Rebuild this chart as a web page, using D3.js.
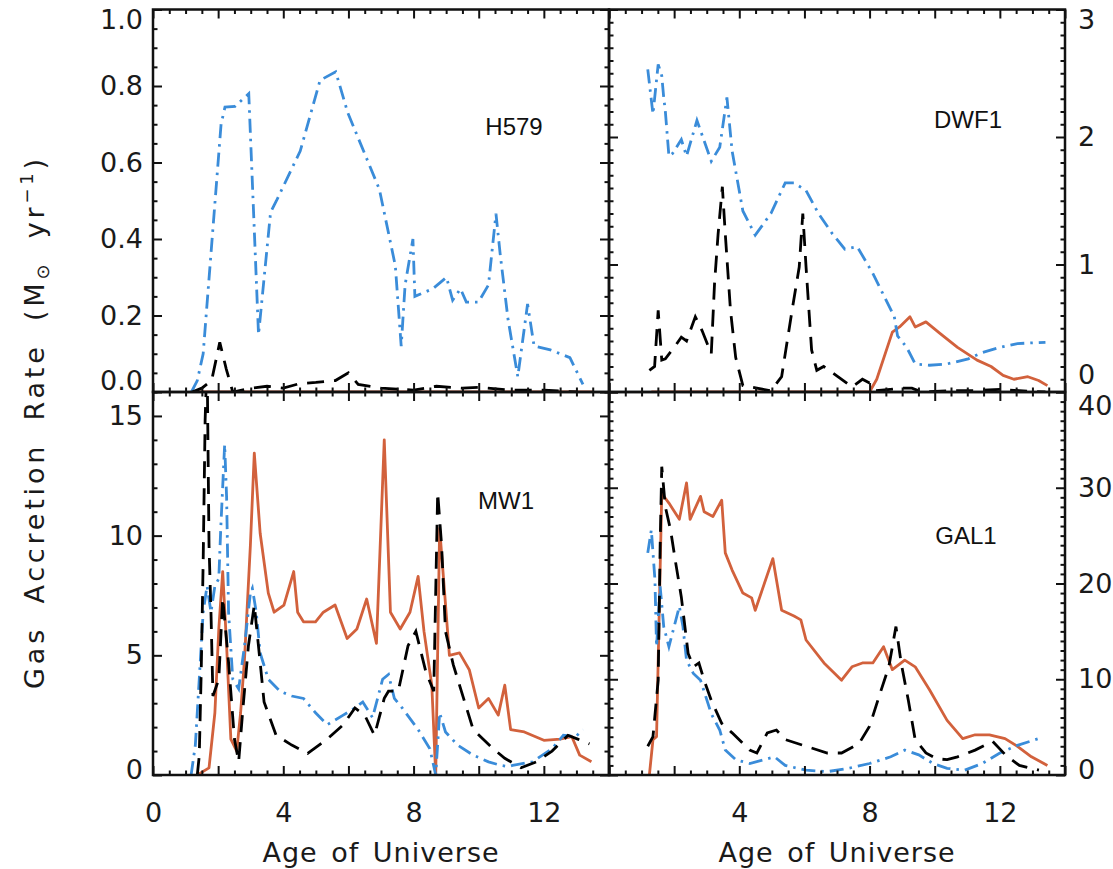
<!DOCTYPE html>
<html><head><meta charset="utf-8">
<script src="https://cdn.jsdelivr.net/npm/d3@7"></script>
<style>body{margin:0;background:#fff}</style>
</head><body>
<svg id="c" width="1113" height="869"></svg>
<script>
// ---------------- DATA ----------------
const xTickLabelsLeft = [0, 4, 8, 12];
const xTickLabelsRight = [4, 8, 12];
const yTicksH579 = [0, 0.2, 0.4, 0.6, 0.8, 1.0];
const yTicksDWF1 = [0, 1, 2, 3];
const yTicksMW1 = [0, 5, 10, 15];
const yTicksGAL1 = [0, 10, 20, 30, 40];
const panelNames = ["H579", "DWF1", "MW1", "GAL1"];

// [age, rate] pairs
const h579Red = [[1.3,0],[4,0],[8,0],[13.5,0]];
const h579Black = [[1.2,0],[1.5,0.01],[1.8,0.03],[2.05,0.13],[2.25,0.06],[2.45,0.0],[3.0,0.01],[3.5,0.015],[4.0,0.01],[4.5,0.022],[5.0,0.025],[5.6,0.03],[6.0,0.05],[6.3,0.02],[7.0,0.01],[8.0,0.005],[8.7,0.015],[9.5,0.01],[10.0,0.012],[11.0,0.005],[12.0,0.005],[13.0,0.0]];
const h579Blue = [[1.18,0],[1.36,0.03],[1.54,0.10],[2.09,0.70],[2.21,0.745],[2.52,0.747],[2.94,0.78],[3.24,0.15],[3.61,0.47],[3.79,0.50],[4.52,0.63],[5.13,0.815],[5.61,0.837],[5.98,0.73],[6.95,0.53],[7.44,0.33],[7.62,0.12],[7.74,0.28],[7.98,0.40],[8.04,0.25],[8.59,0.27],[9.01,0.30],[9.2,0.24],[9.44,0.27],[9.62,0.235],[9.99,0.235],[10.3,0.28],[10.53,0.466],[10.66,0.36],[10.9,0.19],[11.2,0.04],[11.5,0.23],[11.7,0.12],[12.2,0.11],[12.8,0.09],[13.2,0.02]];

const dwf1Red = [[1.3,0],[4,0],[8.0,0],[8.22,0.1],[8.7,0.47],[8.92,0.51],[9.24,0.59],[9.4,0.51],[9.73,0.55],[10.16,0.46],[10.7,0.35],[11.3,0.25],[11.73,0.2],[12.1,0.13],[12.43,0.10],[12.86,0.12],[13.19,0.09],[13.46,0.05]];
const dwf1Black = [[1.24,0.17],[1.4,0.2],[1.51,0.64],[1.62,0.25],[1.73,0.26],[2.0,0.35],[2.22,0.43],[2.38,0.40],[2.65,0.59],[2.86,0.48],[3.14,0.30],[3.24,0.85],[3.35,1.24],[3.48,1.61],[3.57,1.24],[3.73,0.64],[3.89,0.27],[4.11,0.05],[4.54,0.03],[4.97,0.01],[5.3,0.12],[5.62,0.64],[5.84,0.98],[5.95,1.40],[6.05,0.98],[6.22,0.33],[6.38,0.17],[6.59,0.20],[6.92,0.14],[7.46,0.04],[7.78,0.10],[8.0,0.07],[8.2,0.01],[9.0,0.03],[9.3,0.03],[9.6,0.0],[10.4,0.01],[11.2,0.01],[12.0,0.02],[12.6,0.01],[13.4,0.0]];
const dwf1Blue = [[1.19,2.53],[1.35,2.18],[1.51,2.57],[1.62,2.48],[1.68,2.31],[1.73,2.2],[1.84,1.85],[1.95,1.87],[2.22,1.98],[2.38,1.85],[2.7,2.13],[3.14,1.81],[3.4,1.92],[3.62,2.31],[3.78,1.89],[4.11,1.42],[4.49,1.23],[4.97,1.40],[5.41,1.64],[5.68,1.64],[6.05,1.58],[6.43,1.40],[6.86,1.24],[7.24,1.12],[7.62,1.14],[8.1,0.93],[8.76,0.59],[8.86,0.44],[9.14,0.35],[9.4,0.22],[9.84,0.21],[10.38,0.22],[11.03,0.26],[11.46,0.31],[12.0,0.35],[12.54,0.38],[13.4,0.39]];

const mw1Red = [[1.36,0],[1.72,0.3],[1.9,2.6],[2.02,6.1],[2.14,8.5],[2.26,5.4],[2.39,1.5],[2.57,1.0],[2.69,2.6],[2.81,4.85],[2.99,9.6],[3.11,13.45],[3.29,10.1],[3.54,7.6],[3.72,6.8],[4.02,7.1],[4.32,8.5],[4.44,6.8],[4.62,6.4],[4.99,6.4],[5.23,6.8],[5.59,7.1],[5.96,5.7],[6.26,6.1],[6.56,7.35],[6.86,5.5],[7.1,14.0],[7.29,6.8],[7.59,6.1],[7.89,6.8],[8.14,8.3],[8.32,6.0],[8.56,3.75],[8.68,0],[8.8,10.3],[8.92,8.2],[9.1,5.0],[9.41,5.1],[9.71,4.4],[10.0,2.8],[10.3,3.2],[10.6,2.5],[10.8,3.75],[10.98,1.9],[11.4,1.8],[12.0,1.45],[12.5,1.5],[12.86,1.6],[13.1,0.83],[13.46,0.55]];
const mw1Black = [[1.36,0],[1.42,0.8],[1.48,4.3],[1.54,8.9],[1.6,14.8],[1.66,17.5],[1.72,9.6],[1.78,6.8],[1.84,3.3],[2.02,4.0],[2.14,7.4],[2.32,4.7],[2.5,1.5],[2.63,0.55],[2.75,2.6],[2.93,5.4],[3.11,7.1],[3.29,4.7],[3.41,3.05],[3.78,1.66],[4.26,1.25],[4.75,0.9],[5.35,1.5],[5.84,2.1],[6.2,2.8],[6.5,2.5],[6.8,1.66],[7.1,3.2],[7.23,3.5],[7.53,3.5],[7.83,5.4],[8.07,6.0],[8.38,4.3],[8.62,3.5],[8.74,11.8],[8.86,9.6],[8.98,6.0],[9.22,4.6],[9.83,1.9],[10.44,1.1],[10.8,0.7],[11.3,0.3],[11.77,0.55],[12.25,1.0],[12.74,1.66],[13.04,1.5],[13.4,1.3]];
const mw1Blue = [[1.17,0],[1.3,1.25],[1.42,4.0],[1.54,6.8],[1.66,7.9],[1.78,6.8],[1.9,7.9],[2.02,8.2],[2.08,10.3],[2.2,13.8],[2.26,11.6],[2.32,6.8],[2.45,4.0],[2.63,3.6],[2.81,5.4],[2.99,7.6],[3.05,7.8],[3.17,6.8],[3.29,5.1],[3.54,4.0],[3.9,3.5],[4.26,3.3],[4.62,3.2],[4.99,2.6],[5.35,2.1],[5.84,2.5],[6.2,2.8],[6.44,3.05],[6.74,2.4],[7.05,4.0],[7.23,4.2],[7.41,3.2],[7.65,2.8],[8.14,1.9],[8.5,1.1],[8.68,0],[8.8,2.6],[8.98,1.8],[9.35,1.25],[9.83,0.83],[10.3,0.55],[10.68,0.4],[10.92,0.35],[11.04,0.4],[11.65,0.55],[12.25,1.1],[12.6,1.66],[12.98,1.6],[13.2,1.9]];

const gal1Red = [[1.24,0],[1.35,3.7],[1.46,4.0],[1.62,29.4],[1.84,28.4],[2.16,26.7],[2.38,30.5],[2.49,26.7],[2.81,29.1],[2.92,27.5],[3.19,27.0],[3.46,28.7],[3.57,23.2],[3.78,21.4],[4.11,19.0],[4.38,18.5],[4.49,17.2],[5.03,22.6],[5.3,17.2],[5.68,16.6],[5.89,16.2],[6.05,14.1],[6.6,11.7],[7.14,9.9],[7.46,11.3],[7.78,11.7],[8.1,11.7],[8.43,13.4],[8.7,11.0],[9.08,12.0],[9.4,11.3],[9.84,8.9],[10.38,5.7],[10.86,3.8],[11.24,4.2],[11.68,4.2],[12.16,3.8],[12.54,3.0],[12.97,1.9],[13.46,1.0]];
const gal1Black = [[1.19,3.0],[1.35,4.0],[1.51,9.9],[1.57,23.9],[1.62,32.2],[1.73,28.0],[1.89,25.6],[2.05,22.1],[2.22,18.6],[2.43,12.7],[2.59,11.3],[2.76,11.7],[2.92,9.9],[3.14,7.8],[3.46,5.4],[3.78,4.4],[4.32,2.6],[4.54,2.3],[4.86,4.4],[5.14,4.7],[5.41,3.7],[6.05,3.0],[6.7,2.3],[7.14,2.3],[7.68,3.3],[8.0,5.1],[8.32,8.5],[8.59,11.3],[8.81,15.5],[8.97,11.7],[9.19,7.8],[9.4,3.7],[9.73,2.3],[10.05,1.7],[10.38,1.6],[10.7,1.9],[11.24,2.6],[11.78,3.5],[12.2,2.0],[12.6,1.0],[13.2,0.5]];
const gal1Blue = [[1.19,23.2],[1.3,25.6],[1.41,20.4],[1.46,13.4],[1.57,19.7],[1.68,15.5],[1.84,13.4],[2.0,15.5],[2.16,17.6],[2.27,15.5],[2.38,12.0],[2.59,10.6],[2.81,9.9],[3.14,6.4],[3.4,4.7],[3.57,2.6],[3.89,1.6],[4.32,1.2],[4.76,1.6],[5.08,1.9],[5.41,1.0],[6.05,0.5],[6.7,0.35],[7.35,0.7],[8.0,1.2],[8.65,1.9],[9.08,2.6],[9.51,2.1],[9.95,1.2],[10.38,0.7],[10.92,0.5],[11.46,1.2],[12.0,2.3],[12.54,3.1],[13.19,3.8]];

// ---------------- LAYOUT ----------------
const svg = d3.select("#c");
const XL = 153, XR = 609, W = 456, YT = 9.5, YM = 392, YB = 775;
const FONT = "DejaVu Sans, sans-serif";
const RED = "#d2613c", BLUE = "#3a8cd9", BLACK = "#000";

const panels = [
  {name: panelNames[0], x: XL, y: YT, h: YM - YT, ymax: 1, ticks: yTicksH579, minor: 0.05, fmt: d3.format(".1f"), side: "left", red: h579Red, black: h579Black, blue: h579Blue, lab: [514, 135], xl: null, top: true},
  {name: panelNames[1], x: XR, y: YT, h: YM - YT, ymax: 3, ticks: yTicksDWF1, minor: 0.1, fmt: d3.format("d"), side: "right", red: dwf1Red, black: dwf1Black, blue: dwf1Blue, lab: [968, 128], xl: null, top: true},
  {name: panelNames[2], x: XL, y: YM, h: YB - YM, ymax: 16, ticks: yTicksMW1, minor: 1, fmt: d3.format("d"), side: "left", red: mw1Red, black: mw1Black, blue: mw1Blue, lab: [506, 509], xl: xTickLabelsLeft, top: false},
  {name: panelNames[3], x: XR, y: YM, h: YB - YM, ymax: 40, ticks: yTicksGAL1, minor: 1, fmt: d3.format("d"), side: "right", red: gal1Red, black: gal1Black, blue: gal1Blue, lab: [966, 544], xl: xTickLabelsRight, top: false}
];

const xMajor = d3.range(0, 14.001, 2);
const xMinor = d3.range(0, 14.001, 0.5).filter(v => v % 2 !== 0);

function styleAxis(g) {
  g.select(".domain").remove();
  g.selectAll(".tick line").attr("stroke", "#111").attr("stroke-width", 2);
  g.selectAll(".tick text").attr("font-family", FONT).attr("font-size", 27).attr("fill", "#1a1a1a");
}

panels.forEach((p, i) => {
  const x = d3.scaleLinear().domain([0, 14]).range([p.x, p.x + W]);
  const y = d3.scaleLinear().domain([0, p.ymax]).range([p.y + p.h, p.y]);
  const yMinor = d3.range(0, p.ymax + 1e-9, p.minor).filter(v => !p.ticks.some(t => Math.abs(t - v) < 1e-9));

  const clipId = "clip" + i;
  svg.append("clipPath").attr("id", clipId).append("rect")
    .attr("x", p.x).attr("y", p.y).attr("width", W).attr("height", p.h);

  const line = d3.line().x(d => x(d[0])).y(d => y(d[1]));
  const g = svg.append("g").attr("clip-path", `url(#${clipId})`);
  g.append("path").datum(p.red).attr("d", line).attr("fill", "none")
    .attr("stroke", RED).attr("stroke-width", 2.8).attr("stroke-linejoin", "round");
  g.append("path").datum(p.blue).attr("d", line).attr("fill", "none")
    .attr("stroke", BLUE).attr("stroke-width", 2.8).attr("stroke-dasharray", "14,6,2.5,6");
  g.append("path").datum(p.black).attr("d", line).attr("fill", "none")
    .attr("stroke", BLACK).attr("stroke-width", 2.8).attr("stroke-dasharray", "17,10");

  // x axes: bottom and top (inward ticks)
  const xb = svg.append("g").attr("transform", `translate(0,${p.y + p.h})`)
    .call(d3.axisBottom(x).tickValues(xMajor).tickSize(-9).tickPadding(28)
      .tickFormat(d => (p.xl && p.xl.includes(d)) ? d : ""));
  styleAxis(xb);
  const xbm = svg.append("g").attr("transform", `translate(0,${p.y + p.h})`)
    .call(d3.axisBottom(x).tickValues(xMinor).tickSize(-4.5).tickFormat(""));
  styleAxis(xbm);
  const xt = svg.append("g").attr("transform", `translate(0,${p.y})`)
    .call(d3.axisTop(x).tickValues(xMajor).tickSize(-9).tickFormat(""));
  styleAxis(xt);
  const xtm = svg.append("g").attr("transform", `translate(0,${p.y})`)
    .call(d3.axisTop(x).tickValues(xMinor).tickSize(-4.5).tickFormat(""));
  styleAxis(xtm);

  // y axes on both sides
  const labelled = p.side;
  const mkLeft = d3.axisLeft(y).tickValues(p.ticks).tickSize(-9).tickPadding(10)
    .tickFormat(labelled === "left" ? p.fmt : () => "");
  const mkRight = d3.axisRight(y).tickValues(p.ticks).tickSize(-9).tickPadding(13)
    .tickFormat(labelled === "right" ? p.fmt : () => "");
  const yl = svg.append("g").attr("transform", `translate(${p.x},0)`).call(mkLeft);
  styleAxis(yl);
  const yr = svg.append("g").attr("transform", `translate(${p.x + W},0)`).call(mkRight);
  styleAxis(yr);
  [[p.x, d3.axisLeft], [p.x + W, d3.axisRight]].forEach(([tx, ax]) => {
    const m = svg.append("g").attr("transform", `translate(${tx},0)`)
      .call(ax(y).tickValues(yMinor).tickSize(-4.5).tickFormat(""));
    styleAxis(m);
  });
  // nudge end labels inward like the original
  [yl, yr].forEach(a => a.selectAll(".tick text").attr("dy", d => {
    if (d === p.ymax) return p.top ? "0.7em" : "0.85em";
    if (d === 0) return p.top ? (p.side === "left" ? "-0.1em" : "-0.3em") : "0.12em";
    return "0.32em";
  }));

  // frame
  svg.append("rect").attr("x", p.x).attr("y", p.y).attr("width", W).attr("height", p.h)
    .attr("fill", "none").attr("stroke", "#111").attr("stroke-width", 2.5);

  // panel label
  svg.append("text").attr("x", p.lab[0]).attr("y", p.lab[1]).attr("text-anchor", "middle")
    .attr("font-family", "Liberation Sans, Arial, sans-serif").attr("font-size", 24)
    .attr("fill", "#111").text(p.name);
});

// axis titles
[[XL + W / 2], [XR + W / 2]].forEach(([cx]) => {
  svg.append("text").attr("x", cx).attr("y", 862).attr("text-anchor", "middle")
    .attr("font-family", FONT).attr("font-size", 27).attr("letter-spacing", 1)
    .attr("word-spacing", 4).attr("fill", "#1a1a1a").text("Age of Universe");
});

const yt = svg.append("text").attr("transform", "translate(44,422) rotate(-90)")
  .attr("text-anchor", "middle").attr("font-family", FONT).attr("font-size", 27)
  .attr("letter-spacing", 3.8).attr("word-spacing", 10).attr("fill", "#1a1a1a");
yt.append("tspan").text("Gas Accretion Rate (M");
yt.append("tspan").attr("font-size", 18).attr("dy", 5).text("⊙");
yt.append("tspan").attr("dy", -5).text(" yr");
yt.append("tspan").attr("font-size", 18).attr("dy", -11).text("−1");
yt.append("tspan").attr("dy", 11).text(")");
</script>
</body></html>
